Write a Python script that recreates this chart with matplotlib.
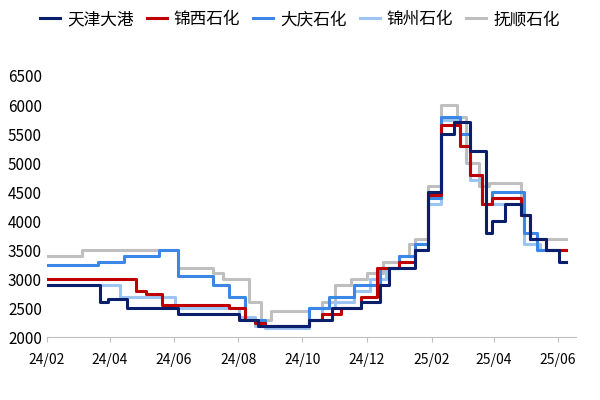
import matplotlib
matplotlib.use("Agg")
import matplotlib.pyplot as plt
import pandas as pd

plt.rcParams['font.family'] = ['Noto Sans CJK SC', 'DejaVu Sans']

start = pd.Timestamp("2024-02-01")
# positions in months after 2024-02-01, values in yuan/ton (step series)
tj_m = [0, 1.65, 1.9, 2.5, 4.1, 6.0, 6.6, 8.2, 8.9, 9.8, 10.4, 10.7, 11.5, 11.9, 12.3, 12.7, 13.2, 13.7, 13.9, 14.3, 14.8, 15.1, 15.6, 16.0, 16.2]
tj_v = [2900, 2600, 2650, 2500, 2400, 2300, 2200, 2300, 2500, 2600, 2900, 3200, 3500, 4500, 5500, 5700, 5200, 3800, 4000, 4300, 4100, 3700, 3500, 3300, 3300]
xx_m = [0, 2.8, 3.1, 3.6, 5.7, 6.2, 6.5, 6.8, 8.2, 8.6, 9.2, 9.8, 10.3, 11.0, 11.5, 11.9, 12.3, 12.9, 13.2, 13.6, 13.9, 14.8, 15.1, 15.6, 16.2]
xx_v = [3000, 2800, 2750, 2550, 2500, 2300, 2250, 2200, 2300, 2400, 2500, 2700, 3200, 3300, 3500, 4450, 5650, 5300, 4800, 4300, 4400, 4100, 3700, 3500, 3500]
dq_m = [0, 1.6, 2.4, 3.5, 4.1, 5.2, 5.7, 6.2, 6.8, 8.2, 8.8, 9.6, 10.4, 11.0, 11.5, 11.9, 12.3, 12.9, 13.2, 13.6, 13.9, 14.9, 15.3, 16.2]
dq_v = [3250, 3300, 3400, 3500, 3050, 2900, 2700, 2300, 2200, 2500, 2700, 2900, 3200, 3400, 3600, 4400, 5800, 5500, 4800, 4300, 4500, 3800, 3500, 3500]
jz_m = [0, 2.3, 4.0, 6.0, 6.5, 6.8, 8.2, 8.6, 9.0, 9.6, 10.1, 10.6, 11.0, 11.5, 11.9, 12.3, 12.9, 13.2, 13.6, 14.9, 15.4, 16.2]
jz_v = [2900, 2700, 2500, 2350, 2200, 2150, 2300, 2500, 2600, 2800, 3000, 3200, 3400, 3600, 4300, 5750, 5300, 4700, 4300, 3600, 3500, 3500]
fs_m = [0, 1.1, 4.1, 5.2, 5.5, 6.3, 6.7, 7.0, 8.2, 8.6, 9.0, 9.5, 10.0, 10.5, 11.0, 11.3, 11.5, 11.9, 12.3, 12.8, 13.1, 13.5, 13.8, 14.8, 15.1, 16.0, 16.2]
fs_v = [3400, 3500, 3200, 3100, 3000, 2600, 2300, 2450, 2500, 2600, 2900, 3000, 3100, 3300, 3400, 3600, 3700, 4600, 6000, 5800, 5000, 4600, 4650, 4100, 3700, 3700, 3700]

names = ['天津大港', '锦西石化', '大庆石化', '锦州石化', '抚顺石化']
colors = ['#0a1f6b', '#c00000', '#3a87e8', '#9cc5f2', '#bfbfbf']
series = [(tj_m, tj_v), (xx_m, xx_v), (dq_m, dq_v), (jz_m, jz_v), (fs_m, fs_v)]
order = [4, 3, 2, 1, 0]

fig, ax = plt.subplots(figsize=(6, 4), dpi=100)
fig.subplots_adjust(left=0.078, right=0.96, top=0.81, bottom=0.157)

def to_dates(m):
    return [start + pd.Timedelta(days=float(v) * 30.44) for v in m]

lines = {}
for i in order:
    m, v = series[i]
    l, = ax.step(to_dates(m), v, where='post', color=colors[i], lw=2.2)
    lines[i] = l

ax.set_ylim(2000, 6500)
ax.set_yticks(range(2000, 6501, 500))
ax.set_xlim(pd.Timestamp("2024-02-01"), pd.Timestamp("2025-06-18"))
ticks = pd.date_range("2024-02-01", "2025-06-01", freq="2MS")
ax.set_xticks(ticks)
ax.set_xticklabels([t.strftime("%y/%m") for t in ticks])
for s in ['top', 'right', 'left']:
    ax.spines[s].set_visible(False)
ax.spines['bottom'].set_color('#bfbfbf')
ax.tick_params(axis='y', length=0, labelsize=11)
ax.tick_params(axis='x', labelsize=10, color='#bfbfbf', pad=8)
fig.legend([lines[i] for i in range(5)], names, loc='upper center', ncol=5, frameon=False,
           bbox_to_anchor=(0.5, 1.01), fontsize=12, handlelength=1.2, columnspacing=0.8, handletextpad=0.4)
fig.savefig("out.png")
